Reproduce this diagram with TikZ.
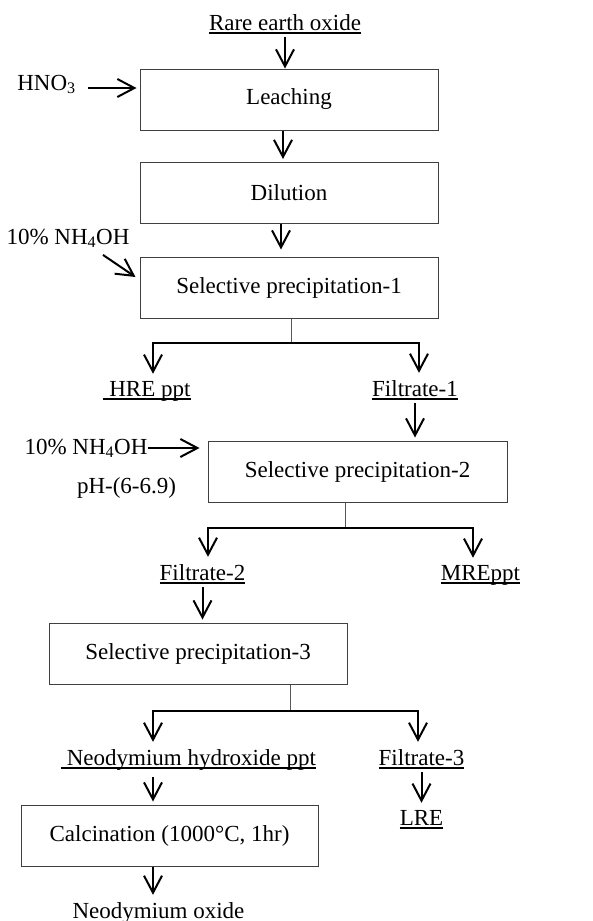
\documentclass[tikz,border=0pt]{standalone}
\usepackage{fontspec}
\setmainfont{Liberation Serif}
\usetikzlibrary{arrows.meta}
% underline a text node just below its baseline
\newcommand\ulinenode[1]{\draw[line width=1.3pt] ([yshift=-3pt]#1.base west) -- ([yshift=-3pt]#1.base east);}
\begin{document}
\begin{tikzpicture}[x=1pt,y=-1pt,
  every node/.style={font=\fontsize{23}{27}\selectfont},
  stepbox/.style={draw=black!75, line width=1pt, minimum width=298pt, minimum height=61pt, inner sep=0pt},
  txt/.style={inner xsep=0pt, inner ysep=7pt, anchor=base},
  tip/.tip={Straight Barb[length=17pt,width=18pt]},
  arr/.style={line width=2pt, -tip},
  arr2/.style={line width=2pt, tip-tip},
  stem/.style={draw=black!65, line width=1pt}
]
\useasboundingbox (0,0) rectangle (593,921);

% process steps
\node[stepbox] (leach) at (289,99.5) {Leaching};
\node[stepbox] (dil) at (289,193) {Dilution};
\node[stepbox] (sp1) at (289,287.5) {Selective precipitation-1};
\node[stepbox, minimum width=299pt] (sp2) at (357.5,471.5) {Selective precipitation-2};
\node[stepbox] (sp3) at (198,653.5) {Selective precipitation-3};
\node[stepbox, minimum width=297pt] (calc) at (169.5,835.5) {Calcination (1000°C, 1hr)};

% materials and reagents
\node[txt] (reo) at (285,30) {Rare earth oxide};
\node[txt] (hno) at (46.5,90) {HNO\textsubscript{3}};
\node[txt] (nh1) at (68,244) {10\% NH\textsubscript{4}OH};
\node[txt] (hre) at (147,396) {\ HRE ppt\ };
\node[txt] (f1) at (415,396) {Filtrate-1};
\node[txt] (nh2) at (86,454) {10\% NH\textsubscript{4}OH};
\node[txt] (ph) at (126.5,493) {pH-(6-6.9)};
\node[txt] (f2) at (202.5,580) {Filtrate-2};
\node[txt] (mre) at (480.5,580) {MREppt};
\node[txt] (ndh) at (188.5,765) {\ Neodymium hydroxide ppt};
\node[txt] (f3) at (421.5,765) {Filtrate-3};
\node[txt] (lre) at (421.5,825) {LRE};
\node[txt] (ndo) at (158.5,918) {Neodymium oxide};

\foreach \n in {reo,hre,f1,f2,mre,ndh,f3,lre} {\ulinenode{\n}}

% main line
\draw[arr] (reo.south) -- (reo.south |- leach.north);
\path ([yshift=2pt]hno.base east) coordinate (h1);
\draw[arr, shorten <=12pt, shorten >=3pt] (h1) -- (h1 -| leach.west);
\draw[arr, shorten >=3pt] ([xshift=-6pt]leach.south) -- ([xshift=-6pt]dil.north);
\draw[arr, shorten >=7pt] ([xshift=-8pt]dil.south) -- ([xshift=-8pt]sp1.north);
\draw[arr] ([xshift=35pt]nh1.south) -- ([xshift=-4pt,yshift=10.5pt]sp1.west);

% first split
\coordinate (j1) at (291,343);
\coordinate (b1l) at (153,343);
\coordinate (b1r) at (419,343);
\draw[stem] (sp1.south -| j1) -- (j1);
\draw[arr2] (b1l |- hre.north) -- (b1l) -- (b1r) -- (b1r |- f1.north);
\draw[arr, shorten >=3pt] (f1.south) -- (f1.south |- sp2.north);
\path ([yshift=6pt]nh2.base east) coordinate (n2);
\draw[arr, shorten >=8pt] (n2) -- (n2 -| sp2.west);

% second split
\coordinate (j2) at (345,528);
\coordinate (b2l) at (208,528);
\coordinate (b2r) at (473,528);
\draw[stem] (sp2.south -| j2) -- (j2);
\draw[arr2] (b2l |- f2.north) -- (b2l) -- (b2r) -- (b2r |- mre.north);
\draw[arr, shorten >=3pt] (f2.south) -- (f2.south |- sp3.north);

% third split
\coordinate (j3) at (290,711);
\coordinate (b3l) at (153,711);
\coordinate (b3r) at (418,711);
\draw[stem] (sp3.south -| j3) -- (j3);
\draw[arr2] (b3l |- ndh.north) -- (b3l) -- (b3r) -- (b3r |- f3.north);
\draw[arr, shorten >=3pt] (b3l |- ndh.south) -- (b3l |- calc.north);
\draw[arr] (b3l |- calc.south) -- (b3l |- ndo.north);
\draw[arr] (f3.south) -- (f3.south |- lre.north);
\end{tikzpicture}
\end{document}
